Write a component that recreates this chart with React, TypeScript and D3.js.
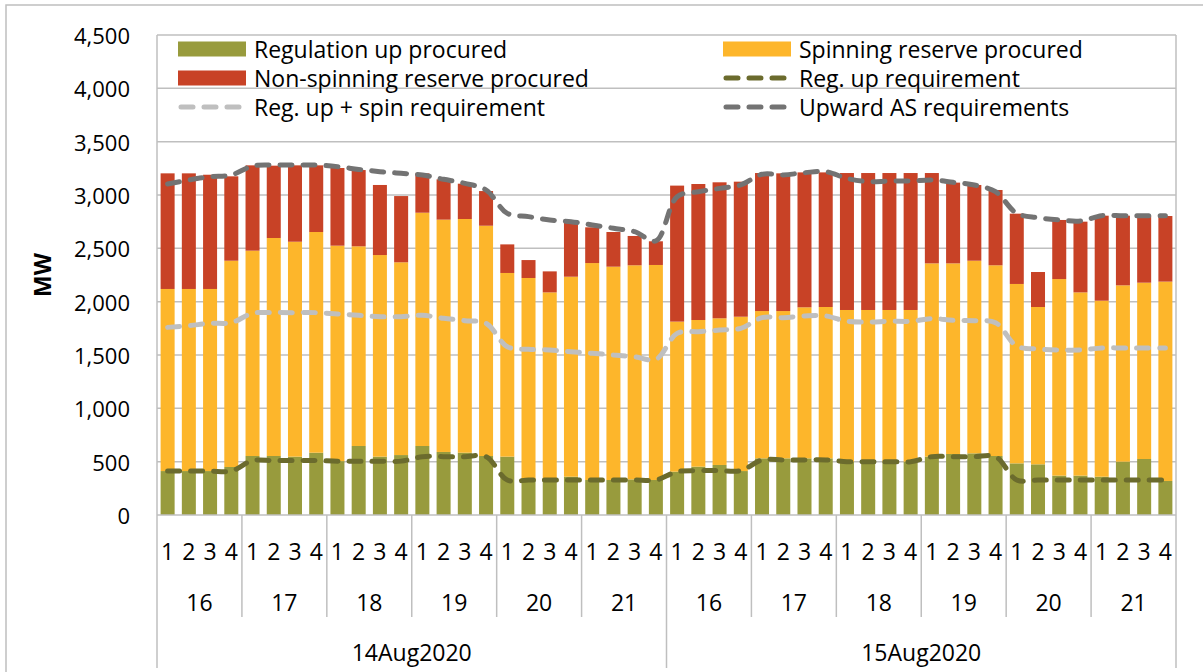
import React from 'react'
import { scaleBand, scaleLinear, line, curveCatmullRom, range } from 'd3'

const WIDTH = 1203
const HEIGHT = 672
const LEFT = 157
const RIGHT = 1176
const TOP = 35
const BOTTOM = 515

const FONT = '"Open Sans", Lato, sans-serif'

const dates = ['14Aug2020', '15Aug2020']
const hours = ['16', '17', '18', '19', '20', '21']
const intervals = ['1', '2', '3', '4']
const yTicks = [0, 500, 1000, 1500, 2000, 2500, 3000, 3500, 4000, 4500]

// procured MW, stacked (day 1 then day 2, 24 intervals each)
const regUpProcured = [
  412, 412, 412, 450, 553, 553, 547, 584, 505, 647, 547, 562, 647, 591, 584, 553, 547, 328, 344, 359, 328, 328, 334, 328,
  406, 453, 469, 412, 531, 531, 531, 531, 500, 500, 500, 500, 547, 572, 578, 553, 484, 475, 369, 369, 359, 500, 525, 319,
]
const spinProcured = [
  1707, 1707, 1707, 1934, 1925, 2044, 2015, 2069, 2020, 1872, 1890, 1807, 2187, 2178, 2191, 2159, 1722, 1894, 1743, 1875, 2034, 2000, 2007, 2016,
  1407, 1375, 1375, 1447, 1381, 1381, 1416, 1419, 1422, 1422, 1422, 1422, 1812, 1787, 1806, 1788, 1682, 1475, 1843, 1718, 1650, 1653, 1653, 1869,
]
const nonSpinProcured = [
  1084, 1084, 1071, 791, 800, 678, 716, 625, 728, 715, 657, 621, 369, 378, 331, 325, 268, 168, 197, 513, 335, 325, 275, 222,
  1275, 1275, 1275, 1266, 1294, 1291, 1265, 1262, 1284, 1284, 1284, 1284, 847, 757, 710, 706, 659, 328, 554, 663, 797, 653, 628, 615,
]

// requirements
const regUpReq = [
  412, 412, 412, 412, 510, 510, 510, 510, 505, 505, 505, 505, 547, 547, 547, 547, 328, 328, 328, 328, 328, 328, 328, 328,
  406, 416, 416, 416, 516, 516, 516, 516, 500, 500, 500, 500, 547, 547, 547, 547, 328, 328, 328, 328, 328, 328, 328, 328,
]
const regSpinReq = [
  1759, 1775, 1797, 1803, 1891, 1897, 1897, 1897, 1884, 1872, 1859, 1859, 1872, 1844, 1822, 1797, 1578, 1553, 1547, 1531, 1516, 1500, 1484, 1459,
  1703, 1719, 1734, 1750, 1850, 1850, 1866, 1866, 1816, 1809, 1816, 1816, 1841, 1825, 1822, 1803, 1584, 1556, 1547, 1547, 1566, 1566, 1566, 1566,
]
const upwardReq = [
  3103, 3141, 3172, 3188, 3272, 3281, 3281, 3281, 3266, 3240, 3219, 3203, 3188, 3147, 3109, 3047, 2828, 2797, 2766, 2750, 2719, 2688, 2656, 2570,
  2984, 3031, 3062, 3094, 3194, 3188, 3209, 3219, 3156, 3125, 3131, 3131, 3141, 3119, 3094, 3031, 2828, 2787, 2766, 2756, 2806, 2806, 2806, 2806,
]

const GREEN = '#989B3D'
const ORANGE = '#FDB62B'
const RED = '#C84226'
const OLIVE = '#6B6B2D'
const LIGHT = '#BFBFBF'
const DARK = '#737373'
const GRID = '#BFBFBF'

const keys = range(dates.length * hours.length * intervals.length).map(String)

const App = () => {
  const x = scaleBand().domain(keys).range([LEFT, RIGHT]).paddingInner(0.34).paddingOuter(0.17)
  const y = scaleLinear().domain([0, 4500]).range([BOTTOM, TOP])
  const step = x.step()
  const cx = (i: number) => (x(String(i)) as number) + x.bandwidth() / 2

  const stacks = keys.map((k, i) => {
    const a = regUpProcured[i]
    const b = a + spinProcured[i]
    const c = b + nonSpinProcured[i]
    return { k, i, segs: [[0, a, GREEN], [a, b, ORANGE], [b, c, RED]] as [number, number, string][] }
  })

  const path = line<number>()
    .x((_, i) => cx(i))
    .y(d => y(d))
    .curve(curveCatmullRom)

  const dashed = { fill: 'none', strokeWidth: 5, strokeDasharray: '12 11', strokeLinecap: 'round' as const }

  const lines: [number[], string][] = [
    [regSpinReq, LIGHT],
    [regUpReq, OLIVE],
    [upwardReq, DARK],
  ]

  const legend = [
    { label: 'Regulation up procured', color: GREEN, kind: 'bar', col: 0, row: 0 },
    { label: 'Spinning reserve procured', color: ORANGE, kind: 'bar', col: 1, row: 0 },
    { label: 'Non-spinning reserve procured', color: RED, kind: 'bar', col: 0, row: 1 },
    { label: 'Reg. up requirement', color: OLIVE, kind: 'line', col: 1, row: 1 },
    { label: 'Reg. up + spin requirement', color: LIGHT, kind: 'line', col: 0, row: 2 },
    { label: 'Upward AS requirements', color: DARK, kind: 'line', col: 1, row: 2 },
  ]
  const legendX = [178, 723]
  const legendY = [49, 78, 107]

  const hourW = step * intervals.length
  const dayW = hourW * hours.length

  return (
    <div style={{ position: 'absolute', left: 0, top: 0 }}>
      <svg width={WIDTH} height={HEIGHT} style={{ display: 'block', background: 'white' }} fontFamily={FONT}>
        <rect x={6} y={5} width={WIDTH + 10} height={HEIGHT + 20} fill="white" stroke="#BFBFBF" strokeWidth={1.5} />

        {/* gridlines */}
        <g>
          {yTicks.filter(t => t > 0).map(t => (
            <line key={t} x1={LEFT} x2={RIGHT} y1={y(t)} y2={y(t)} stroke={GRID} strokeWidth={1.5} />
          ))}
        </g>

        {/* y axis labels */}
        <g fontSize={22} fill="#000">
          {yTicks.map(t => (
            <text key={t} x={130} y={y(t)} textAnchor="end" dominantBaseline="central">
              {t.toLocaleString('en-US')}
            </text>
          ))}
        </g>
        <text transform={`translate(42, ${(TOP + BOTTOM) / 2}) rotate(-90)`} textAnchor="middle" dominantBaseline="central"
          fontSize={23} fontWeight="bold">MW</text>

        {/* bars */}
        <g>
          {stacks.map(s => s.segs.map(([lo, hi, col], j) => (
            <rect key={s.k + '-' + j} x={x(s.k)} y={y(hi)} width={x.bandwidth()} height={y(lo) - y(hi)} fill={col} />
          )))}
        </g>

        {/* requirement lines */}
        <g>
          {lines.map(([vals, col], i) => (
            <path key={i} d={path(vals) || ''} stroke={col} {...dashed} />
          ))}
        </g>

        {/* category axis */}
        <g stroke={GRID} strokeWidth={1.5}>
          <line x1={LEFT} x2={RIGHT} y1={BOTTOM} y2={BOTTOM} />
          <line x1={LEFT} x2={LEFT} y1={TOP} y2={BOTTOM} />
          <line x1={RIGHT} x2={RIGHT} y1={TOP} y2={BOTTOM} />
          {range(dates.length * hours.length + 1).map(h => {
            const xx = LEFT + h * hourW
            const isDay = h % hours.length === 0
            return <line key={h} x1={xx} x2={xx} y1={BOTTOM} y2={isDay ? 668 : 617} />
          })}
        </g>
        <g fontSize={23} fill="#000" textAnchor="middle" dominantBaseline="central">
          {keys.map((k, i) => (
            <text key={k} x={cx(i)} y={551}>{intervals[i % intervals.length]}</text>
          ))}
          {range(dates.length * hours.length).map(h => (
            <text key={'h' + h} x={LEFT + (h + 0.5) * hourW} y={602}>{hours[h % hours.length]}</text>
          ))}
          {dates.map((d, i) => (
            <text key={d} x={LEFT + (i + 0.5) * dayW} y={652}>{d}</text>
          ))}
        </g>

        {/* legend */}
        <g fontSize={23} fill="#000">
          {legend.map(l => {
            const lx = legendX[l.col]
            const ly = legendY[l.row]
            return (
              <g key={l.label}>
                {l.kind === 'bar'
                  ? <rect x={lx} y={ly - 7.5} width={68} height={15} fill={l.color} />
                  : <line x1={lx + 3} x2={lx + 66} y1={ly} y2={ly} stroke={l.color} strokeWidth={5}
                      strokeDasharray="12 11" strokeLinecap="round" />}
                <text x={lx + 76} y={ly} dominantBaseline="central">{l.label}</text>
              </g>
            )
          })}
        </g>
      </svg>
    </div>
  )
}

export default App
